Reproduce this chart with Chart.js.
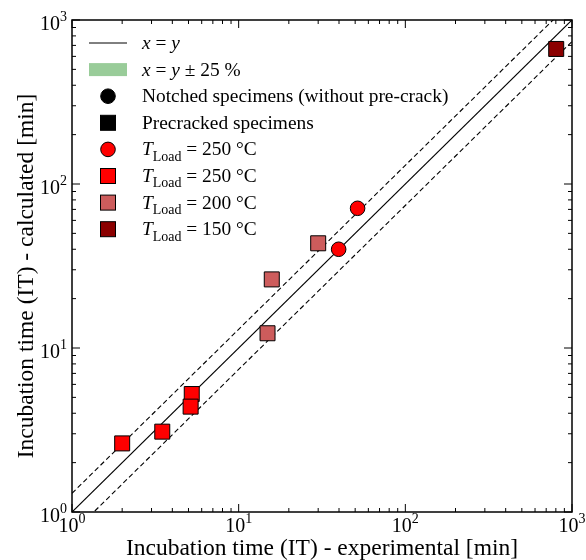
<!DOCTYPE html>
<html>
<head>
<meta charset="utf-8">
<script src="https://cdn.jsdelivr.net/npm/chart.js@4"></script>
<style>
  html, body { margin: 0; padding: 0; background: #fff; }
  #wrap { width: 586px; height: 560px; }
</style>
</head>
<body>
<div id="wrap"><canvas id="grafico"></canvas></div>
<script>
// valores (experimental x calculado, em min)
const notched250X = [51.7, 39.8];
const notched250Y = [71.1, 40.0];
const pre250X = [2.0, 3.48, 5.23, 5.15];
const pre250Y = [2.62, 3.09, 5.24, 4.39];
const pre200X = [30.0, 15.8, 14.9];
const pre200Y = [43.5, 26.2, 12.3];
const pre150X = [804];
const pre150Y = [666];

const faixa = [1, 1000];
const fatorSup = 1.3;
const fatorInf = 0.74;

const decadas = [1, 10, 100, 1000];
const expoentes = ['0', '1', '2', '3'];

const tituloX = 'Incubation time (IT) - experimental [min]';
const tituloY = 'Incubation time (IT) - calculated [min]';

const FONTE = '"Liberation Serif", serif';

function pares(xs, ys) {
  return xs.map((x, i) => ({ x, y: ys[i] }));
}

// desenha texto com partes em itálico / subscrito
function textoRico(ctx, x, y, partes, tam) {
  let px = x;
  partes.forEach(p => {
    const t = p.sub ? tam * 0.72 : tam;
    ctx.font = `${p.i ? 'italic ' : ''}${t}px ${FONTE}`;
    const dy = p.sub ? tam * 0.28 : 0;
    ctx.fillText(p.t, px, y + dy);
    px += ctx.measureText(p.t).width;
  });
}

const legenda = [
  { tipo: 'linha', texto: [{ t: 'x', i: 1 }, { t: ' = ' }, { t: 'y', i: 1 }] },
  { tipo: 'faixa', texto: [{ t: 'x', i: 1 }, { t: ' = ' }, { t: 'y', i: 1 }, { t: ' ± 25 %' }] },
  { tipo: 'circle', cor: '#000000', texto: [{ t: 'Notched specimens (without pre-crack)' }] },
  { tipo: 'rect', cor: '#000000', texto: [{ t: 'Precracked specimens' }] },
  { tipo: 'circle', cor: '#ff0000', texto: [{ t: 'T', i: 1 }, { t: 'Load', sub: 1 }, { t: ' = 250 °C' }] },
  { tipo: 'rect', cor: '#ff0000', texto: [{ t: 'T', i: 1 }, { t: 'Load', sub: 1 }, { t: ' = 250 °C' }] },
  { tipo: 'rect', cor: '#cd5c5c', texto: [{ t: 'T', i: 1 }, { t: 'Load', sub: 1 }, { t: ' = 200 °C' }] },
  { tipo: 'rect', cor: '#8b0000', texto: [{ t: 'T', i: 1 }, { t: 'Load', sub: 1 }, { t: ' = 150 °C' }] }
];

const moldura = {
  id: 'moldura',
  afterDraw(chart) {
    const { ctx, chartArea: a, scales } = chart;
    const sx = scales.x, sy = scales.y;
    ctx.save();
    ctx.strokeStyle = '#000';
    ctx.fillStyle = '#000';

    // caixa
    ctx.lineWidth = 1.5;
    ctx.strokeRect(a.left, a.top, a.right - a.left, a.bottom - a.top);

    // ticks para dentro
    ctx.lineWidth = 1;
    decadas.forEach((d, k) => {
      for (let m = 1; m <= 9; m++) {
        const v = d * m;
        if (v > 1000 || (m > 1 && k === decadas.length - 1)) continue;
        const len = m === 1 ? 8 : 4;
        const px = sx.getPixelForValue(v);
        const py = sy.getPixelForValue(v);
        ctx.beginPath();
        ctx.moveTo(px, a.bottom); ctx.lineTo(px, a.bottom - len);
        ctx.moveTo(px, a.top); ctx.lineTo(px, a.top + len);
        ctx.moveTo(a.left, py); ctx.lineTo(a.left + len, py);
        ctx.moveTo(a.right, py); ctx.lineTo(a.right - len, py);
        ctx.stroke();
      }
    });

    // rótulos 10^n
    ctx.textBaseline = 'alphabetic';
    decadas.forEach((d, k) => {
      ctx.font = `20px ${FONTE}`;
      const w10 = ctx.measureText('10').width;
      ctx.font = `14px ${FONTE}`;
      const we = ctx.measureText(expoentes[k]).width;
      // eixo x
      const px = sx.getPixelForValue(d);
      const x0 = px - (w10 + we) / 2;
      ctx.font = `20px ${FONTE}`;
      ctx.textAlign = 'left';
      ctx.fillText('10', x0, a.bottom + 20);
      ctx.font = `14px ${FONTE}`;
      ctx.fillText(expoentes[k], x0 + w10, a.bottom + 11);
      // eixo y
      const py = sy.getPixelForValue(d);
      const y0 = a.left - 5 - we - w10;
      ctx.font = `20px ${FONTE}`;
      ctx.fillText('10', y0, py + 10);
      ctx.font = `14px ${FONTE}`;
      ctx.fillText(expoentes[k], y0 + w10, py + 1);
    });

    // títulos dos eixos
    ctx.font = `23.5px ${FONTE}`;
    ctx.textAlign = 'center';
    ctx.fillText(tituloX, (a.left + a.right) / 2, a.bottom + 43);
    ctx.save();
    ctx.translate(33, 276);
    ctx.rotate(-Math.PI / 2);
    ctx.fillText(tituloY, 0, 0);
    ctx.restore();

    // legenda
    ctx.textAlign = 'left';
    legenda.forEach((e, i) => {
      const yc = 43 + i * 26.6;
      if (e.tipo === 'linha') {
        ctx.lineWidth = 1;
        ctx.beginPath(); ctx.moveTo(89, yc); ctx.lineTo(127, yc); ctx.stroke();
      } else if (e.tipo === 'faixa') {
        ctx.fillStyle = 'rgba(0,128,0,0.4)';
        ctx.fillRect(89, yc - 6.5, 38, 13);
      } else if (e.tipo === 'circle') {
        ctx.fillStyle = e.cor;
        ctx.beginPath(); ctx.arc(108, yc, 7.3, 0, Math.PI * 2); ctx.fill(); ctx.stroke();
      } else {
        ctx.fillStyle = e.cor;
        ctx.fillRect(100.5, yc - 7.5, 15, 15);
        ctx.strokeRect(100.5, yc - 7.5, 15, 15);
      }
      ctx.fillStyle = '#000';
      textoRico(ctx, 142, yc + 6, e.texto, 19.4);
    });

    ctx.restore();
  }
};

const pontoBase = { borderColor: '#000', borderWidth: 1, showLine: false };

new Chart(document.getElementById('grafico'), {
  type: 'scatter',
  data: {
    datasets: [
      { ...pontoBase, label: 'T_Load = 250 °C (notched)', data: pares(notched250X, notched250Y),
        pointStyle: 'circle', pointRadius: 7.3, backgroundColor: '#ff0000' },
      { ...pontoBase, label: 'T_Load = 250 °C', data: pares(pre250X, pre250Y),
        pointStyle: 'rect', pointRadius: 10.6, backgroundColor: '#ff0000' },
      { ...pontoBase, label: 'T_Load = 200 °C', data: pares(pre200X, pre200Y),
        pointStyle: 'rect', pointRadius: 10.6, backgroundColor: '#cd5c5c' },
      { ...pontoBase, label: 'T_Load = 150 °C', data: pares(pre150X, pre150Y),
        pointStyle: 'rect', pointRadius: 10.6, backgroundColor: '#8b0000' },
      { label: 'x = y', data: faixa.map(v => ({ x: v, y: v })), showLine: true,
        borderColor: '#000', borderWidth: 1.2, pointRadius: 0 },
      { label: 'sup', data: faixa.map(v => ({ x: v, y: v * fatorSup })), showLine: true,
        borderColor: '#000', borderWidth: 1.1, borderDash: [5, 3], pointRadius: 0 },
      { label: 'inf', data: faixa.map(v => ({ x: v, y: v * fatorInf })), showLine: true,
        borderColor: '#000', borderWidth: 1.1, borderDash: [5, 3], pointRadius: 0 }
    ]
  },
  options: {
    responsive: true,
    maintainAspectRatio: false,
    animation: false,
    layout: { padding: { left: 72, right: 14, top: 20, bottom: 48 } },
    plugins: { legend: { display: false }, tooltip: { enabled: false } },
    scales: {
      x: { type: 'logarithmic', min: 1, max: 1000,
        ticks: { display: false }, grid: { display: false, drawTicks: false }, border: { display: false } },
      y: { type: 'logarithmic', min: 1, max: 1000,
        ticks: { display: false }, grid: { display: false, drawTicks: false }, border: { display: false } }
    }
  },
  plugins: [moldura]
});
</script>
</body>
</html>
